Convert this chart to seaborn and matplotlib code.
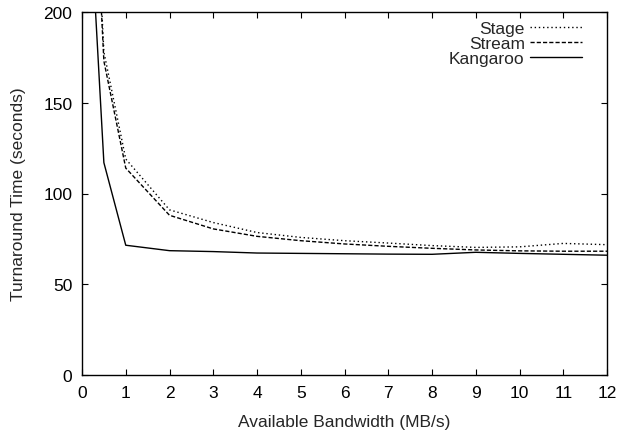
import matplotlib
matplotlib.use("Agg")
import matplotlib.pyplot as plt
import seaborn as sns
import pandas as pd

bandwidth = [0.25, 0.5, 1, 2, 3, 4, 5, 6, 7, 8, 9, 10, 11, 12]
stage = [300, 178, 119, 91, 84, 78.5, 75.8, 74, 72.7, 71.3, 70.3, 70.6, 72.5, 71.8]
stream = [295, 173, 114, 88, 80.5, 76.4, 74, 72.2, 70.9, 69.8, 68.9, 68.4, 68.2, 68.2]
kangaroo = [226, 117, 71.5, 68.5, 68, 67.2, 67, 66.8, 66.6, 66.5, 67.6, 67, 66.5, 66]

sns.set_style("ticks")
plt.rcParams['font.family'] = ['Liberation Sans', 'DejaVu Sans']
FS = 12.5
plt.rcParams['font.size'] = FS

fig = plt.figure(figsize=(6.23, 4.31), dpi=100)
ax = fig.add_axes([82/623, 1-376/431, (607-82)/623, (376-13)/431])

df = pd.DataFrame({"bw": bandwidth, "Stage": stage, "Stream": stream, "Kangaroo": kangaroo})

sns.lineplot(data=df, x="bw", y="Stage", ax=ax, color="black", lw=1,
             linestyle=(0, (1, 2)), label="Stage")
sns.lineplot(data=df, x="bw", y="Stream", ax=ax, color="black", lw=1,
             linestyle=(0, (3, 1.5)), label="Stream")
sns.lineplot(data=df, x="bw", y="Kangaroo", ax=ax, color="black", lw=1,
             linestyle="-", label="Kangaroo")

ax.set_xlim(0, 12)
ax.set_ylim(0, 200)
ax.set_xticks(range(0, 13))
ax.set_yticks([0, 50, 100, 150, 200])
ax.set_xlabel("Available Bandwidth (MB/s)", fontsize=FS, labelpad=10)
ax.set_ylabel("Turnaround Time (seconds)", fontsize=FS, labelpad=12)
ax.tick_params(direction="in", length=4, width=0.8, top=True, right=True,
               labelsize=FS, colors="black", pad=7)
for s in ax.spines.values():
    s.set_visible(True)
    s.set_linewidth(1)
    s.set_color("black")

ax.legend(loc="upper right", bbox_to_anchor=((582-82)/525, (376-22)/363),
          frameon=False, markerfirst=False, handlelength=3.0, handletextpad=0.3,
          labelspacing=0.0, borderpad=0, borderaxespad=0, fontsize=FS)

fig.savefig("out.png", dpi=100)
